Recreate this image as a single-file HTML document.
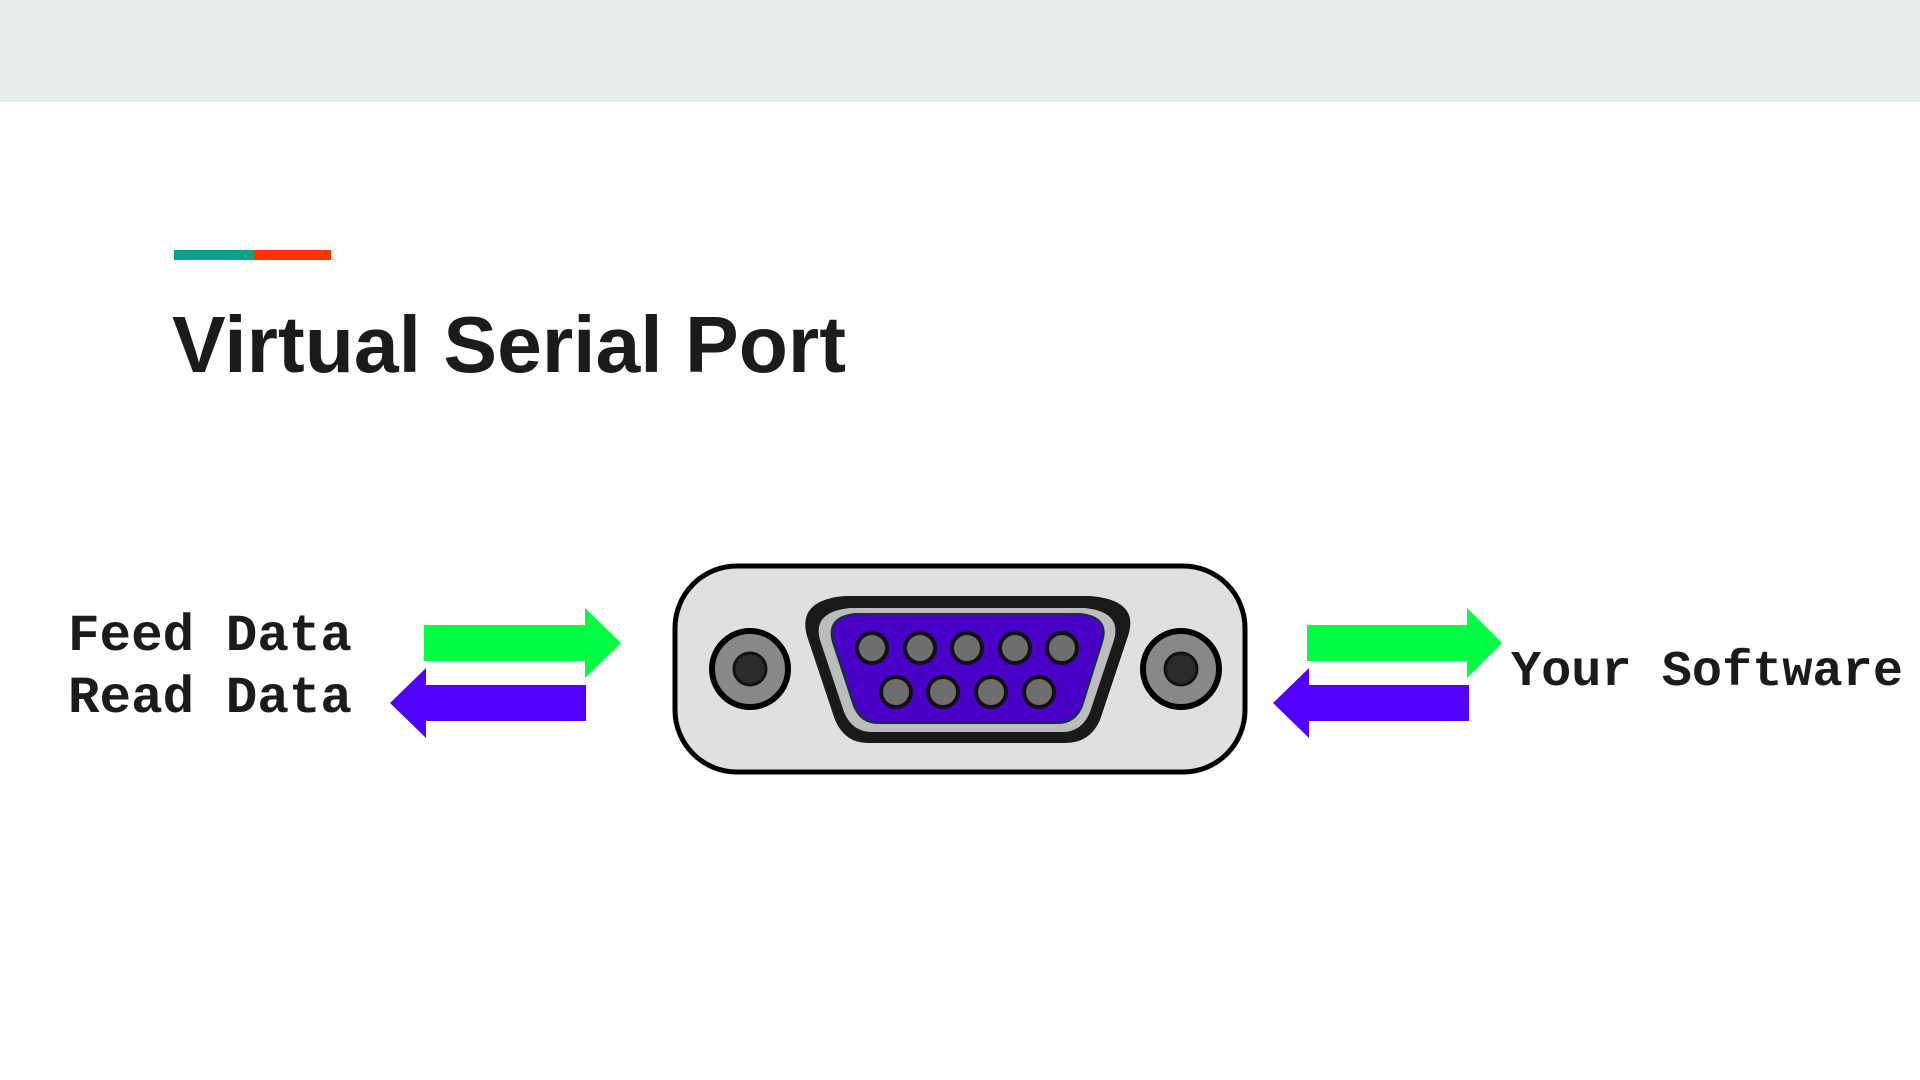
<!DOCTYPE html>
<html><head><meta charset="utf-8"><style>
html,body{margin:0;padding:0;background:#fff;width:1920px;height:1080px;overflow:hidden}
</style></head><body>
<svg width="1920" height="1080" viewBox="0 0 1920 1080" xmlns="http://www.w3.org/2000/svg">
<rect x="0" y="0" width="1920" height="102" fill="#e7eded"/>
<rect x="174" y="250" width="80" height="10" fill="#00a58b"/>
<rect x="254" y="250" width="77" height="10" fill="#ff3300"/>
<text x="172" y="372" font-family="Liberation Sans, sans-serif" font-weight="bold" font-size="80" fill="#1b1b1b" textLength="674" lengthAdjust="spacingAndGlyphs">Virtual Serial Port</text>

<g font-family="Liberation Mono, monospace" font-weight="bold" fill="#1b1b1b">
<text x="68" y="650" font-size="52" textLength="284" lengthAdjust="spacingAndGlyphs">Feed Data</text>
<text x="68" y="712" font-size="52" textLength="284" lengthAdjust="spacingAndGlyphs">Read Data</text>
<text x="1511" y="685" font-size="50" textLength="392" lengthAdjust="spacingAndGlyphs">Your Software</text>
</g>

<polygon points="424,625 585,625 585,608 621,643 585,678 585,661 424,661" fill="#00ff40"/>
<polygon points="586,685 426,685 426,668 390,703 426,738 426,721 586,721" fill="#5200ff"/>
<polygon points="1307,625 1467,625 1467,608 1502,643 1467,678 1467,661 1307,661" fill="#00ff40"/>
<polygon points="1469,685 1309,685 1309,668 1273,703 1309,738 1309,721 1469,721" fill="#5200ff"/>

<rect x="675" y="566" width="570" height="206" rx="62" fill="#e0e0e0" stroke="#000" stroke-width="5"/>
<circle cx="750" cy="669" r="38" fill="#888" stroke="#000" stroke-width="6"/>
<circle cx="750" cy="669" r="16" fill="#2a2a2a" stroke="#111" stroke-width="3"/>
<circle cx="1181" cy="669" r="38" fill="#888" stroke="#000" stroke-width="6"/>
<circle cx="1181" cy="669" r="16" fill="#2a2a2a" stroke="#111" stroke-width="3"/>

<path d="M845,596 L1090,596 Q1140,600 1128,636 L1100,720 Q1090,743 1065,743 L868,743 Q845,743 835,720 L807,636 Q797,600 845,596 Z" fill="#1a1a1a"/>
<path d="M850,608 L1085,608 Q1122,612 1114,640 L1090,712 Q1082,732 1062,732 L872,732 Q852,732 844,712 L820,640 Q812,612 850,608 Z" fill="#bcbcbc"/>
<path d="M855,614 L1080,614 Q1110,617 1102,642 L1082,706 Q1075,723 1058,723 L878,723 Q861,723 854,706 L833,642 Q826,617 855,614 Z" fill="#4b00c8" stroke="#113333" stroke-width="2"/>
<g fill="#6e6e6e" stroke="#111" stroke-width="4">
<circle cx="872" cy="648" r="15"/><circle cx="920" cy="648" r="15"/><circle cx="967" cy="648" r="15"/><circle cx="1015" cy="648" r="15"/><circle cx="1062" cy="648" r="15"/>
<circle cx="896" cy="692" r="15"/><circle cx="943" cy="692" r="15"/><circle cx="991" cy="692" r="15"/><circle cx="1039" cy="692" r="15"/>
</g>
</svg>
</body></html>
